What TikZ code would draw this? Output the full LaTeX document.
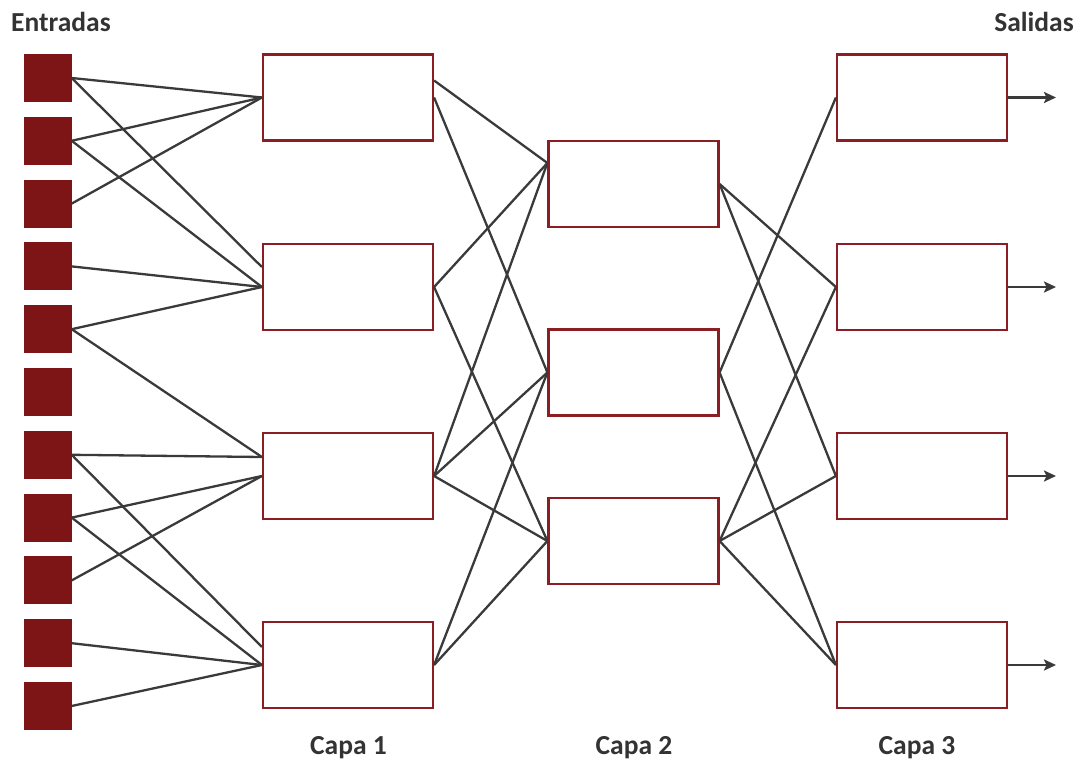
\documentclass[tikz,border=0pt]{standalone}
\usepackage{fontspec}
\setmainfont{Carlito}
\usetikzlibrary{arrows.meta}
\definecolor{sqred}{HTML}{7D1517}
\definecolor{boxred}{HTML}{8A1E22}
\definecolor{wire}{HTML}{3A3A3A}
\definecolor{txt}{HTML}{333333}
\tikzset{
  inp/.style={fill=sqred, draw=none, minimum width=48pt, minimum height=48pt, inner sep=0pt},
  unit/.style={draw=boxred, line width=2.2pt, fill=white, minimum width=170pt, minimum height=86pt, inner sep=0pt},
  wirel/.style={draw=wire, line width=2.3pt},
  outarrow/.style={draw=wire, line width=2.3pt, -{Stealth[length=12pt,width=11pt,inset=2.5pt]}},
  lbl/.style={text=txt, font=\fontsize{27.5}{31}\selectfont\bfseries, inner sep=0pt, anchor=base}
}
\begin{document}
\begin{tikzpicture}[x=1pt,y=-1pt]
\useasboundingbox (0,0) rectangle (1080,762);
% inputs
\foreach \k in {1,...,11} {
  \node[inp] (i\k) at (47.5, {78+(\k-1)*62.8}) {};
}
% layer 1
\node[unit] (a1) at (348,97.5) {};
\node[unit] (a2) at (348,287) {};
\node[unit] (a3) at (348,476) {};
\node[unit] (a4) at (348,665) {};
% layer 2
\node[unit] (b1) at (633.5,184) {};
\node[unit] (b2) at (633.5,372.5) {};
\node[unit] (b3) at (633.5,541) {};
% layer 3
\node[unit] (c1) at (922,97.5) {};
\node[unit] (c2) at (922,287) {};
\node[unit] (c3) at (922,476) {};
\node[unit] (c4) at (922,665) {};
% output ends
\coordinate (o1) at (1056,97.5);
\coordinate (o2) at (1056,287);
\coordinate (o3) at (1056,476);
\coordinate (o4) at (1056,665);
% input -> layer 1
\begin{scope}[wirel]
\draw (i1.east) -- (a1.west);
\draw (i1.east) -- ([yshift=20pt]a2.west);
\draw (i2.east) -- (a1.west);
\draw (i2.east) -- (a2.west);
\draw (i3.east) -- (a1.west);
\draw (i4.east) -- (a2.west);
\draw (i5.east) -- (a2.west);
\draw (i5.east) -- ([yshift=19pt]a3.west);
\draw (i7.east) -- ([yshift=19pt]a3.west);
\draw (i7.east) -- ([yshift=18pt]a4.west);
\draw (i8.east) -- (a3.west);
\draw (i8.east) -- (a4.west);
\draw (i9.east) -- (a3.west);
\draw (i10.east) -- (a4.west);
\draw (i11.east) -- (a4.west);
% layer 1 -> layer 2
\draw ([yshift=17pt]a1.east) -- ([yshift=21pt]b1.west);
\draw (a1.east) -- (b2.west);
\draw (a2.east) -- ([yshift=21pt]b1.west);
\draw (a2.east) -- (b3.west);
\draw (a3.east) -- ([yshift=21pt]b1.west);
\draw (a3.east) -- (b2.west);
\draw (a3.east) -- (b3.west);
\draw (a4.east) -- (b2.west);
\draw (a4.east) -- (b3.west);
% layer 2 -> layer 3
\draw (b1.east) -- (c2.west);
\draw (b1.east) -- (c3.west);
\draw (b2.east) -- (c1.west);
\draw (b2.east) -- (c4.west);
\draw (b3.east) -- (c2.west);
\draw (b3.east) -- (c3.west);
\draw (b3.east) -- (c4.west);
\end{scope}
% outputs
\draw[outarrow] (c1.east) -- (o1);
\draw[outarrow] (c2.east) -- (o2);
\draw[outarrow] (c3.east) -- (o3);
\draw[outarrow] (c4.east) -- (o4);
% labels
\node[lbl] (tin) at (61,32) {Entradas};
\node[lbl] (tout) at (1034,32) {Salidas};
\node[lbl] (t1) at (348.5,754) {Capa 1};
\node[lbl] (t2) at (634,754) {Capa 2};
\node[lbl] (t3) at (917,754) {Capa 3};
\end{tikzpicture}
\end{document}
